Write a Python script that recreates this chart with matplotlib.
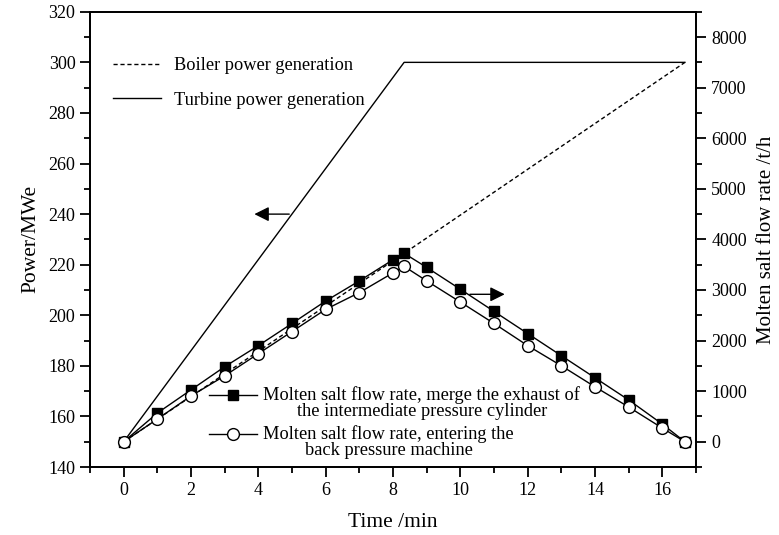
import numpy as np
import matplotlib
matplotlib.use('Agg')
import matplotlib.pyplot as plt
from matplotlib.ticker import MultipleLocator
from matplotlib.legend_handler import HandlerLine2D

plt.rcParams['font.family'] = ['Liberation Serif', 'DejaVu Serif']

## data
t_power = [0, 8.33, 16.67]
turbine_power = [150, 300, 300]
boiler_power = [150, 224.5, 300]

t_flow = [0, 1, 2, 3, 4, 5, 6, 7, 8, 8.33, 9, 10, 11, 12, 13, 14, 15, 16, 16.67]
flow_merge = [0, 567, 1025, 1483, 1900, 2338, 2782, 3180, 3598, 3725,
              3447, 3015, 2577, 2139, 1701, 1264, 826, 348, 0]
flow_bp = [0, 448, 905, 1303, 1741, 2179, 2617, 2949, 3339, 3467,
           3180, 2762, 2338, 1900, 1502, 1085, 687, 269, 0]


class UpHandler(HandlerLine2D):
    # put the handle beside the first line of a two-line label
    def create_artists(self, legend, orig_handle, xdescent, ydescent,
                       width, height, fontsize, trans):
        arts = super().create_artists(legend, orig_handle, xdescent, ydescent,
                                      width, height, fontsize, trans)
        for a in arts:
            a.set_ydata(np.asarray(a.get_ydata()) + 0.45 * fontsize)
        return arts


fig = plt.figure(figsize=(7.79, 5.35), dpi=100)
ax = fig.add_axes([0.1155, 0.127, 0.778, 0.851])
ax2 = ax.twinx()

l_boil, = ax.plot(t_power, boiler_power, color='k', lw=1.0, ls=(0, (3, 2)),
                  label='Boiler power generation')
l_turb, = ax.plot(t_power, turbine_power, color='k', lw=1.0,
                  label='Turbine power generation')

l_m, = ax2.plot(t_flow, flow_merge, color='k', lw=1.0, marker='s', ms=7.5,
                mfc='k', mec='k',
                label='Molten salt flow rate, merge the exhaust of\nthe intermediate pressure cylinder')
l_b, = ax2.plot(t_flow, flow_bp, color='k', lw=1.0, marker='o', ms=8.5,
                mfc='w', mec='k', mew=1.0,
                label='Molten salt flow rate, entering the\nback pressure machine')

ax.set_xlim(-1, 17)
ax.set_ylim(140, 320)
ax2.set_ylim(-500, 8500)

ax.xaxis.set_major_locator(MultipleLocator(2))
ax.xaxis.set_minor_locator(MultipleLocator(1))
ax.yaxis.set_major_locator(MultipleLocator(20))
ax.yaxis.set_minor_locator(MultipleLocator(10))
ax2.yaxis.set_major_locator(MultipleLocator(1000))
ax2.yaxis.set_minor_locator(MultipleLocator(500))

for a in (ax, ax2):
    for s in a.spines.values():
        s.set_linewidth(1.3)
ax.tick_params(which='major', direction='out', length=7, width=1.3, labelsize=13, top=False, right=False)
ax.tick_params(which='minor', direction='out', length=4, width=1.3, top=False, right=False)
ax2.tick_params(which='major', direction='out', length=7, width=1.3, labelsize=13, pad=4)
ax2.tick_params(which='minor', direction='out', length=4, width=1.3)

ax.set_xlabel('Time /min', fontsize=15.5, labelpad=10)
ax.set_ylabel('Power/MWe', fontsize=15.5, labelpad=6)
ax2.set_ylabel('Molten salt flow rate /t/h', fontsize=15, labelpad=7)

# arrows pointing to the axes
ax.annotate('', xy=(3.8, 240), xytext=(5.0, 240),
            arrowprops=dict(arrowstyle='-|>', color='k', lw=1.0, mutation_scale=22))
ax.annotate('', xy=(11.4, 208.3), xytext=(10.2, 208.3),
            arrowprops=dict(arrowstyle='-|>', color='k', lw=1.0, mutation_scale=22))

leg1 = ax.legend(handles=[l_boil, l_turb], loc='upper left',
                 bbox_to_anchor=(0.038, 0.90), frameon=False, fontsize=13.2,
                 handlelength=2.6, handletextpad=0.7, labelspacing=0.95,
                 borderpad=0, borderaxespad=0)

leg2 = ax2.legend(handles=[l_m, l_b], loc='lower left',
                  bbox_to_anchor=(0.197, 0.018), frameon=False, fontsize=13.2,
                  handlelength=2.6, handletextpad=0.35, labelspacing=0.25,
                  borderpad=0, borderaxespad=0,
                  handler_map={l_m: UpHandler(), l_b: UpHandler()})
for t in leg2.get_texts():
    t.set_multialignment('center')
    t.set_linespacing(0.95)

fig.savefig('out.png', dpi=100)
